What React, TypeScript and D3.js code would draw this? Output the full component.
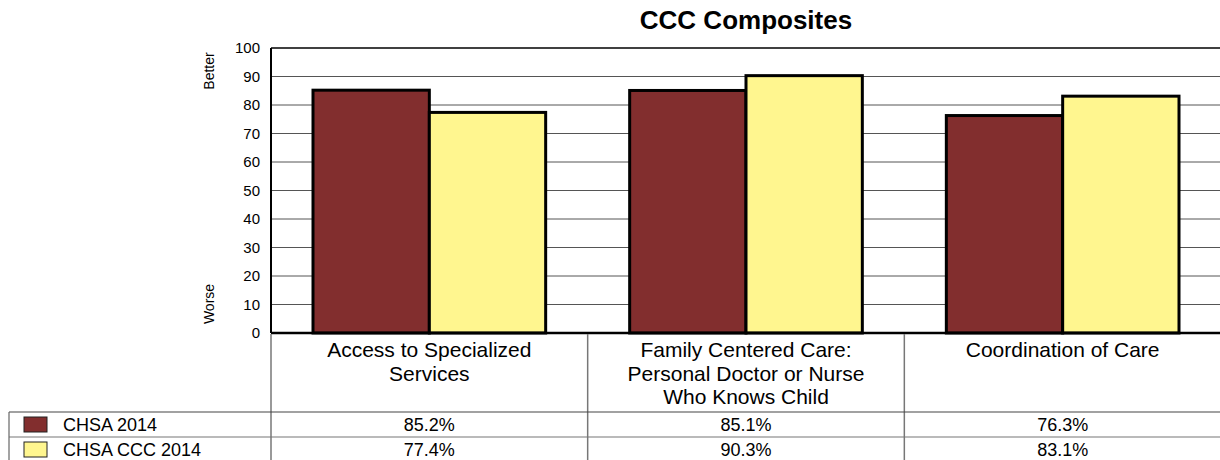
import React from "react";
import * as d3 from "d3";

const categories = [
  ["Access to Specialized", "Services"],
  ["Family Centered Care:", "Personal Doctor or Nurse", "Who Knows Child"],
  ["Coordination of Care"],
];
const seriesNames = ["CHSA 2014", "CHSA CCC 2014"];
const seriesColors = ["#822E2E", "#FFF68F"];
const chsa2014 = [85.2, 85.1, 76.3];
const chsaCcc2014 = [77.4, 90.3, 83.1];
const yTicks = [0, 10, 20, 30, 40, 50, 60, 70, 80, 90, 100];

const FONT = "'Liberation Sans', Arial, Helvetica, sans-serif";

export default function App() {
  const W = 1220, H = 460;
  const left = 271, right = 1221, top = 48, bottom = 333;
  const tableTop = 412, rowH = 25;
  const series = [chsa2014, chsaCcc2014];

  const y = d3.scaleLinear().domain([0, 100]).range([bottom, top]);
  const x0 = d3.scaleBand<number>().domain(categories.map((_, i) => i)).range([left, right]).padding(0);
  const bw = x0.bandwidth();
  const x1 = d3.scaleBand<number>().domain([0, 1]).range([42, bw - 42]).padding(0);

  return (
    <svg width={W} height={H} style={{ position: "absolute", left: 0, top: 0, fontFamily: FONT }}>
      <rect width={W} height={H} fill="#fff" />
      <text x={(left + right) / 2} y={29} textAnchor="middle" fontSize={26} fontWeight="bold">CCC Composites</text>

      {/* gridlines */}
      {yTicks.map((t) => (
        <g key={t}>
          <line x1={left} x2={right} y1={y(t)} y2={y(t)} stroke={t === 100 ? "#000" : "#555"} strokeWidth={t === 100 ? 1.5 : 1} />
          <text x={260} y={y(t) + 5} textAnchor="end" fontSize={15}>{t}</text>
        </g>
      ))}

      <text transform={`translate(214,71) rotate(-90)`} textAnchor="middle" fontSize={14}>Better</text>
      <text transform={`translate(214,304) rotate(-90)`} textAnchor="middle" fontSize={14}>Worse</text>

      {/* bars */}
      {categories.map((_, ci) =>
        series.map((s, si) => (
          <rect
            key={`${ci}-${si}`}
            x={x0(ci)! + x1(si)!}
            y={y(s[ci])}
            width={x1.bandwidth()}
            height={bottom - y(s[ci])}
            fill={seriesColors[si]}
            stroke="#000"
            strokeWidth={3}
          />
        ))
      )}

      {/* axes */}
      <line x1={left} x2={left} y1={top} y2={bottom} stroke="#000" strokeWidth={2} />
      <line x1={left} x2={right} y1={bottom} y2={bottom} stroke="#000" strokeWidth={2.5} />

      {/* category columns */}
      {categories.map((_, ci) => (
        <line key={`v${ci}`} x1={x0(ci)!} x2={x0(ci)!} y1={bottom + 1} y2={H} stroke="#777" strokeWidth={1.5} />
      ))}
      {categories.map((lines, ci) => (
        <text key={`c${ci}`} textAnchor="middle" fontSize={21}>
          {lines.map((l, li) => (
            <tspan key={li} x={x0(ci)! + bw / 2} y={357 + li * 23.5}>{l}</tspan>
          ))}
        </text>
      ))}

      {/* table */}
      <line x1={9} x2={right} y1={tableTop} y2={tableTop} stroke="#444" strokeWidth={1.2} />
      <line x1={9} x2={right} y1={tableTop + rowH} y2={tableTop + rowH} stroke="#777" strokeWidth={1.2} />
      <line x1={9} x2={right} y1={tableTop + 2 * rowH} y2={tableTop + 2 * rowH} stroke="#777" strokeWidth={1.2} />
      <line x1={9} x2={9} y1={tableTop} y2={H} stroke="#666" strokeWidth={1.2} />
      {seriesNames.map((name, si) => (
        <g key={name}>
          <rect x={24} y={tableTop + si * rowH + 5} width={23} height={15} fill={seriesColors[si]} stroke="#222" strokeWidth={1} />
          <text x={63} y={tableTop + si * rowH + 19} fontSize={18}>{name}</text>
          {series[si].map((v, ci) => (
            <text key={ci} x={x0(ci)! + bw / 2} y={tableTop + si * rowH + 19} textAnchor="middle" fontSize={18}>
              {v.toFixed(1)}%
            </text>
          ))}
        </g>
      ))}
    </svg>
  );
}
